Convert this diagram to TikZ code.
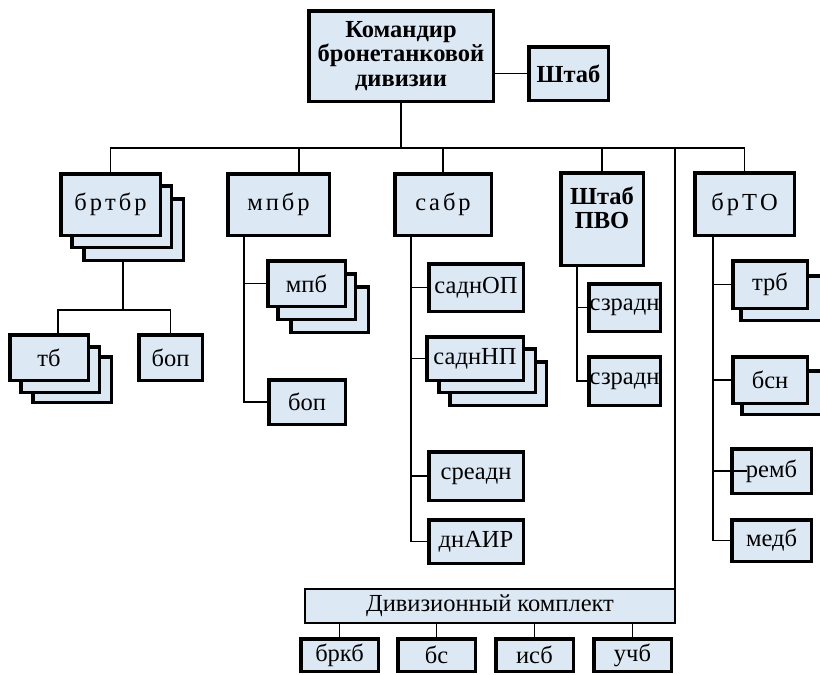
\documentclass[tikz,border=0pt]{standalone}
\usepackage{fontspec}
\setmainfont{Liberation Serif}
\newfontfamily\tnr{Liberation Serif}
\definecolor{boxblue}{RGB}{221,232,245}
\newcommand\lsk{\kern3pt}
\tikzset{
  box/.style={draw=black, line width=3.5pt, fill=boxblue, inner sep=0pt, outer sep=0pt,
    align=center, font=\tnr\fontsize{24.5}{24.5}\selectfont},
  thinbox/.style={line width=2.2pt},
  conn/.style={draw=black, line width=1.6pt},
  bold/.style={font=\tnr\fontsize{24.5}{24.5}\selectfont\bfseries}
}
% \bx[opts]{name}{x1}{y1}{x2}{y2}{text}
\newcommand\bx[7][]{\node[box,#1,minimum width={#5-#3-3.5},minimum height={#6-#4-3.5}] (#2) at ({(#3+#5)/2},{(#4+#6)/2}) {#7};}
\begin{document}
\begin{tikzpicture}[x=1pt,y=-1pt]
\useasboundingbox (0,0) rectangle (820,675);
\coordinate (busL) at (110.5,148);
\coordinate (busR) at (744.5,148);
\coordinate (j1) at (123,310);
\coordinate (j1L) at (58,310);
\coordinate (t1) at (244,0);
\coordinate (t2) at (411,0);
\coordinate (t3) at (577,0);
\coordinate (t4) at (713,0);

% top level
\bx[bold]{cmd}{307}{9}{495}{103}{Командир\\бронетанковой\\дивизии}
\bx[bold]{shtab}{527}{45}{610}{102}{Штаб}

% brigades
\bx{brtbr3}{82}{197}{185}{262}{}
\bx{brtbr2}{70}{184}{173}{249}{}
\bx{brtbr}{59}{172}{162}{237}{б\lsk р\lsk т\lsk б\lsk р}
\bx{mpbr}{226}{172}{331}{237}{м\lsk п\lsk б\lsk р}
\bx{sabr}{393}{172}{493}{237}{с\lsk а\lsk б\lsk р}
\bx{pvo}{559}{171}{645}{267}{}
\node[bold, align=center, inner sep=0pt] (pvot) at (602,208) {Штаб\\ПВО};
\bx{brto}{693}{171}{796}{237}{б\lsk р\lsk Т\lsk О}

% brtbr subunits
\bx{tb3}{31}{355}{113}{404}{}
\bx{tb2}{19}{345}{101}{394}{}
\bx{tb}{8}{333}{90}{382}{тб}
\bx{bopA}{137}{333}{204}{382}{боп}

% mpbr subunits
\bx{mpb3}{289}{285}{370}{334}{}
\bx{mpb2}{276}{272}{357}{321}{}
\bx{mpb}{266}{259}{347}{308}{мпб}
\bx{bopB}{267}{378}{347}{426}{боп}

% sabr subunits
\bx{sadnop}{427}{262}{525}{313}{саднОП}
\bx{sadnnp3}{448}{360}{548}{407}{}
\bx{sadnnp2}{437}{347}{537}{394}{}
\bx{sadnnp}{425}{335}{525}{382}{саднНП}
\bx{sreadn}{427}{450}{525}{502}{среадн}
\bx{dnair}{427}{518}{525}{565}{днАИР}

% PVO subunits
\bx{szrA}{587}{282}{662}{333}{сзрадн}
\bx{szrB}{587}{355}{662}{407}{сзрадн}

% brTO subunits
\bx{trb2}{739}{274}{832}{322}{}
\bx{trb}{731}{259}{809}{310}{трб}
\bx{bsn2}{740}{369}{832}{416}{}
\bx{bsn}{731}{355}{809}{405}{бсн}
\bx{remb}{730}{447}{813}{495}{ремб}
\bx{medb}{730}{518}{813}{563}{медб}

% divisional set
\bx[thinbox]{div}{303}{587}{677}{625}{Дивизионный комплект}
\bx{brkb}{299}{637}{380}{673}{бркб}
\bx{bs}{396}{637}{477}{673}{бс}
\bx{isb}{494}{637}{575}{673}{исб}
\bx{uchb}{592}{637}{673}{673}{учб}

% connectors
\draw[conn] (cmd.south) -- (cmd.south |- busL);
\draw[conn] (shtab.west -| cmd.east) -- (shtab.west);
\draw[conn] (brtbr.north) -- (brtbr.north |- busL) -- (busR) -- (brto.north);
\draw[conn] ([xshift=20.5pt]mpbr.north) -- ([xshift=20.5pt]mpbr.north |- busL);
\draw[conn] (sabr.north) -- (sabr.north |- busL);
\draw[conn] (pvo.north) -- (pvo.north |- busL);
\draw[conn] (div.north east) -- (div.north east |- busL);

\draw[conn] (brtbr3.south -| j1) -- (j1);
\draw[conn] (j1L -| bopA.north) -- (j1L) -- (j1L |- tb.north);
\draw[conn] (bopA.north) -- (bopA.north |- j1L);

\draw[conn] (mpbr.south -| t1) -- (t1 |- bopB.west) -- (bopB.west);
\draw[conn] (t1 |- mpb.west) -- (mpb.west);

\draw[conn] (sabr.south -| t2) -- (t2 |- dnair.west) -- (dnair.west);
\draw[conn] (t2 |- sadnop.west) -- (sadnop.west);
\draw[conn] (t2 |- sadnnp.west) -- (sadnnp.west);
\draw[conn] (t2 |- sreadn.west) -- (sreadn.west);

\draw[conn] (pvo.south -| t3) -- (t3 |- szrB.west) -- (szrB.west);
\draw[conn] (t3 |- szrA.west) -- (szrA.west);

\draw[conn] (brto.south -| t4) -- (t4 |- medb.west) -- (medb.west);
\draw[conn] (t4 |- trb.west) -- (trb.west);
\draw[conn] (t4 |- bsn.west) -- (bsn.west);
\draw[conn] (t4 |- remb.west) -- ([xshift=15pt]remb.west);

\draw[conn] (brkb.north) -- (brkb.north |- div.south);
\draw[conn] (bs.north) -- (bs.north |- div.south);
\draw[conn] (isb.north) -- (isb.north |- div.south);
\draw[conn] (uchb.north) -- (uchb.north |- div.south);
\end{tikzpicture}
\end{document}
